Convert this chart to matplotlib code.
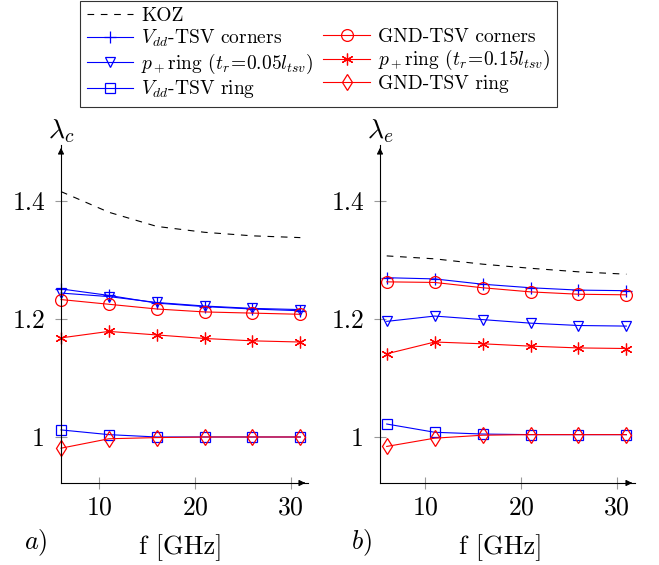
import matplotlib
matplotlib.use("Agg")
import matplotlib.pyplot as plt
from matplotlib.lines import Line2D

plt.rcParams["font.family"] = "serif"
plt.rcParams["font.serif"] = ["cmr10"]
plt.rcParams["mathtext.fontset"] = "cm"
plt.rcParams["axes.formatter.use_mathtext"] = True

# ── Data ────────────────────────────────────────────────────────────────────
freq = [6, 11, 16, 21, 26, 31]

# a) lambda_c
koz_c = [1.416, 1.381, 1.357, 1.347, 1.341, 1.338]
vdd_corners_c = [1.251, 1.240, 1.227, 1.221, 1.217, 1.214]
pring05_c = [1.244, 1.238, 1.228, 1.222, 1.218, 1.216]
vdd_ring_c = [1.012, 1.004, 1.000, 1.000, 1.000, 1.000]
gnd_corners_c = [1.233, 1.225, 1.217, 1.212, 1.210, 1.208]
pring15_c = [1.168, 1.179, 1.173, 1.167, 1.163, 1.161]
gnd_ring_c = [0.981, 0.997, 0.999, 1.000, 1.000, 1.000]

# b) lambda_e
koz_e = [1.307, 1.302, 1.293, 1.286, 1.280, 1.276]
vdd_corners_e = [1.270, 1.268, 1.259, 1.253, 1.249, 1.248]
pring05_e = [1.196, 1.205, 1.199, 1.193, 1.189, 1.188]
vdd_ring_e = [1.022, 1.008, 1.005, 1.004, 1.004, 1.004]
gnd_corners_e = [1.263, 1.262, 1.253, 1.246, 1.242, 1.241]
pring15_e = [1.141, 1.161, 1.158, 1.154, 1.151, 1.150]
gnd_ring_e = [0.984, 0.998, 1.003, 1.004, 1.004, 1.004]

yticks = [1.0, 1.2, 1.4]
ytick_labels = ["1", "1.2", "1.4"]
xticks = [10, 20, 30]

labels = ["KOZ",
          r"$V_{dd}$-TSV corners",
          r"$p_+$ring ($t_r\!=\!0.05l_{tsv}$)",
          r"$V_{dd}$-TSV ring",
          "GND-TSV corners",
          r"$p_+$ring ($t_r\!=\!0.15l_{tsv}$)",
          "GND-TSV ring"]

BLUE = "#0000ff"
RED = "#ff0000"
star = (6, 2, 0)

styles = [
    dict(color="black", linestyle=(0, (6, 6)), marker=None),
    dict(color=BLUE, marker="+", markersize=9, mew=0.9),
    dict(color=BLUE, marker="v", markersize=6.5, mfc="none", mew=0.9),
    dict(color=BLUE, marker="s", markersize=7.5, mfc="none", mew=0.9),
    dict(color=RED, marker="o", markersize=8.5, mfc="none", mew=0.9),
    dict(color=RED, marker=star, markersize=8.5, mew=0.9),
    dict(color=RED, marker="d", markersize=8, mfc="none", mew=0.9),
]

W, H = 659, 565
fig = plt.figure(figsize=(W / 100, H / 100), dpi=100)


def make_axes(x0, x_end, xlim, ylim, y_bottom=483, y_top=145):
    return fig.add_axes([x0 / W, 1 - y_bottom / H,
                         (x_end - x0) / W, (y_bottom - y_top) / H],
                        xlim=xlim, ylim=ylim)


def draw_panel(ax, series, ylab, xlab_x):
    handles = []
    for vals, st in zip(series, styles):
        (h,) = ax.plot(freq, vals, linewidth=0.8, clip_on=False, **st)
        handles.append(h)

    ax.set_xticks(xticks)
    ax.set_yticks(yticks)
    ax.set_yticklabels(ytick_labels)
    ax.tick_params(axis="both", direction="inout", length=8, width=0.8,
                   color="#999999", labelsize=18.5, pad=5)
    ax.tick_params(axis="y", pad=7.5)

    for s in ["top", "right"]:
        ax.spines[s].set_visible(False)
    for s in ["left", "bottom"]:
        ax.spines[s].set_linewidth(0.8)

    # axis arrows
    ax.annotate("", xy=(1.0, 0), xytext=(0.97, 0), xycoords="axes fraction",
                arrowprops=dict(arrowstyle="-|>", lw=0.8, color="black",
                                mutation_scale=9))
    ax.annotate("", xy=(0, 1.0), xytext=(0, 0.97), xycoords="axes fraction",
                arrowprops=dict(arrowstyle="-|>", lw=0.8, color="black",
                                mutation_scale=9))

    ax.text(0.0, 1.0, ylab, transform=ax.transAxes, fontsize=20,
            ha="center", va="bottom")
    fig.text(xlab_x / W, 1 - 548 / H, "f [GHz]", fontsize=19,
             ha="center", va="center")
    return handles


ax1 = make_axes(61, 308, (6, 31.8), (0.922, 1.495))
h = draw_panel(ax1, [koz_c, vdd_corners_c, pring05_c, vdd_ring_c,
                     gnd_corners_c, pring15_c, gnd_ring_c],
               r"$\lambda_c$", 181)

ax2 = make_axes(380, 635, (5.3, 31.9), (0.922, 1.495))
draw_panel(ax2, [koz_e, vdd_corners_e, pring05_e, vdd_ring_e,
                 gnd_corners_e, pring15_e, gnd_ring_e],
           r"$\lambda_e$", 501)

fig.text(24 / W, 1 - 543 / H, r"$a)$", fontsize=19, ha="left", va="center")
fig.text(351 / W, 1 - 543 / H, r"$b)$", fontsize=19, ha="left", va="center")

# ── Legend ──────────────────────────────────────────────────────────────────
blank = Line2D([], [], linestyle="none", marker=None)
order_h = [h[0], h[1], h[2], h[3], blank, h[4], h[5], h[6]]
order_l = [labels[0], labels[1], labels[2], labels[3], "",
           labels[4], labels[5], labels[6]]
leg = fig.legend(order_h, order_l, ncol=2, loc="upper center",
                 bbox_to_anchor=(318.5 / W, 0.999), fontsize=14,
                 frameon=True, fancybox=False, edgecolor="black",
                 handlelength=2.4, handletextpad=0.4, columnspacing=0.5,
                 labelspacing=0.13, borderpad=0.35, borderaxespad=0)
leg.get_frame().set_linewidth(0.8)

fig.savefig("out.png", dpi=100)
